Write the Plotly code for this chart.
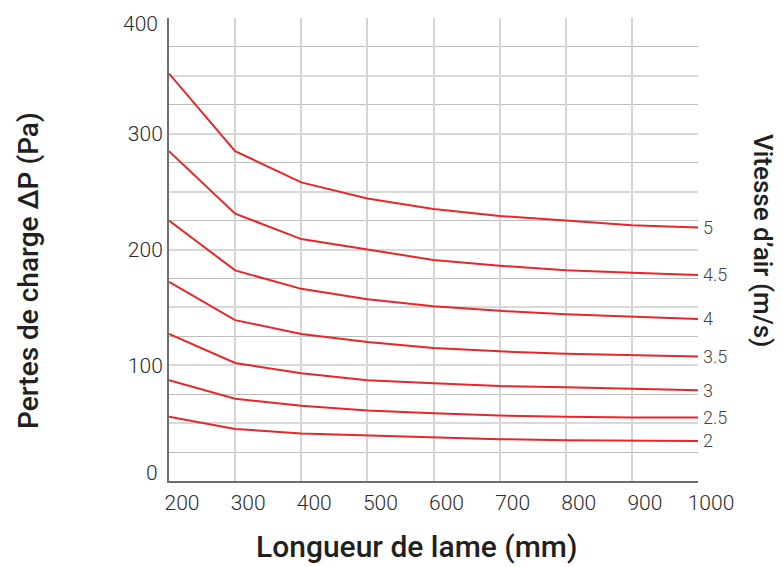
import plotly.graph_objects as go

longueur = [200, 300, 400, 500, 600, 700, 800, 900, 1000]
vitesses = ["5", "4.5", "4", "3.5", "3", "2.5", "2"]
pertes_5 = [352, 285, 258, 244, 235, 229, 225, 221, 219]
pertes_4_5 = [285, 231, 209, 200, 191, 186, 182, 180, 178]
pertes_4 = [225, 182, 166, 157, 151, 147, 144, 142, 140]
pertes_3_5 = [172, 139, 127, 120, 115, 112, 110, 108.5, 107.5]
pertes_3 = [127, 102, 93, 87, 84.5, 82, 81, 79.5, 78.5]
pertes_2_5 = [87, 71, 65, 61, 58.5, 56.5, 55.5, 54.8, 54.8]
pertes_2 = [55.5, 45, 41, 39.3, 37.3, 36.1, 35.2, 34.6, 34.6]
series = [pertes_5, pertes_4_5, pertes_4, pertes_3_5, pertes_3, pertes_2_5, pertes_2]

ygrid = [0, 50, 100, 150, 200, 250, 300, 350, 400]
ytext = ["", "", "100", "", "200", "", "300", "", ""]
yend_labels = [0, 400]
xticks = [200, 300, 400, 500, 600, 700, 800, 900, 1000]

RED = "#e8262a"
FONT = "Roboto"
TICKFONT = dict(family=FONT, size=21, color="#2b2b2b", weight=300)

fig = go.Figure()
for name, vals in zip(vitesses, series):
    fig.add_trace(go.Scatter(x=longueur, y=vals, mode="lines", name=name,
                             line=dict(color=RED, width=2), hoverinfo="skip"))
    fig.add_annotation(x=longueur[-1], y=vals[-1], text=name, xref="x", yref="y",
                       xanchor="left", yanchor="middle", xshift=3, showarrow=False,
                       font=dict(family=FONT, size=18, color="#444444", weight=300))

# end labels of the y axis, nudged inside like in the original artwork
for v, shift in zip(yend_labels, [8, -6]):
    fig.add_annotation(x=longueur[0], y=v, text=str(v), xref="x", yref="y",
                       xanchor="right", yanchor="middle", xshift=-9, yshift=shift,
                       showarrow=False, font=TICKFONT)

fig.add_annotation(x=-0.2657, y=0.4546, xref="paper", yref="paper",
                   text="Pertes de charge ΔP (Pa)", textangle=-90, showarrow=False,
                   xanchor="center", yanchor="middle",
                   font=dict(family=FONT, size=28, color="#231f20", weight=500))
fig.add_annotation(x=1.1216, y=0.52, xref="paper", yref="paper",
                   text="Vitesse d’air (m/s)", textangle=90, showarrow=False,
                   xanchor="center", yanchor="middle",
                   font=dict(family=FONT, size=26, color="#231f20", weight=500))
fig.add_annotation(x=0.467, y=-0.141, xref="paper", yref="paper",
                   text="Longueur de lame (mm)", showarrow=False,
                   xanchor="center", yanchor="middle",
                   font=dict(family=FONT, size=30, color="#231f20", weight=500))

fig.update_layout(
    width=775, height=559,
    margin=dict(l=161, r=85, t=10, b=86),
    paper_bgcolor="white", plot_bgcolor="white",
    showlegend=False,
    font=dict(family=FONT, size=20, color="#333333"),
)
fig.update_xaxes(range=[200, 1000], tickvals=xticks, ticks="", showgrid=True,
                 gridcolor="#d4d4d4", gridwidth=1.5, zeroline=False, automargin=False,
                 showline=True, linecolor="#6e6e6e", linewidth=2,
                 ticklabelshift=13, ticklabelstandoff=2, ticklabeloverflow="allow",
                 tickfont=TICKFONT)
fig.update_yaxes(range=[0, 400], tickvals=ygrid, ticktext=ytext, ticks="",
                 showgrid=True, gridcolor="#d9d9d9", gridwidth=1.5, zeroline=False,
                 automargin=False, ticklabeloverflow="allow",
                 showline=True, linecolor="#6e6e6e", linewidth=2,
                 ticklabelstandoff=0,
                 minor=dict(dtick=25, showgrid=True, gridcolor="#bdbdbd", gridwidth=1.2),
                 tickfont=TICKFONT)

fig.write_html("out.html")
